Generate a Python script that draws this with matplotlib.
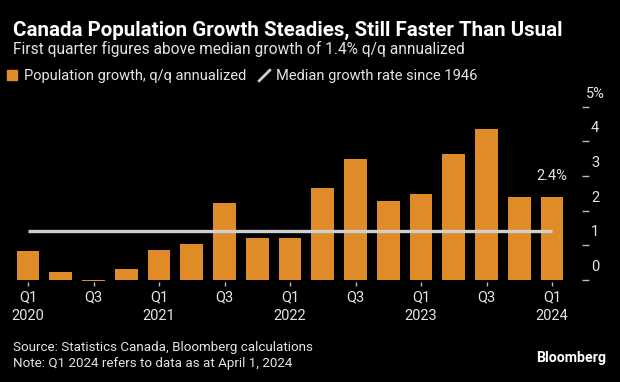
import matplotlib
matplotlib.use('Agg')
import matplotlib.pyplot as plt
from matplotlib import font_manager
from matplotlib.transforms import blended_transform_factory, offset_copy
from matplotlib.patches import Patch
from matplotlib.lines import Line2D

# data
quarters = ['Q1 2020', 'Q2 2020', 'Q3 2020', 'Q4 2020',
            'Q1 2021', 'Q2 2021', 'Q3 2021', 'Q4 2021',
            'Q1 2022', 'Q2 2022', 'Q3 2022', 'Q4 2022',
            'Q1 2023', 'Q2 2023', 'Q3 2023', 'Q4 2023',
            'Q1 2024']
growth = [0.83, 0.23, -0.04, 0.33, 0.86, 1.04, 2.23, 1.21, 1.21,
          2.66, 3.50, 2.28, 2.47, 3.64, 4.36, 2.39, 2.39]
median_growth = 1.4
xtick_pos = [0, 2, 4, 6, 8, 10, 12, 14, 16]
xtick_labels = ['Q1\n2020', 'Q3', 'Q1\n2021', 'Q3', 'Q1\n2022', 'Q3',
                'Q1\n2023', 'Q3', 'Q1\n2024']
ytick_vals = [0, 1, 2, 3, 4, 5]
ytick_labels = ['0', '1', '2', '3', '4', '5%']


def pick_font(names):
    for n in names:
        try:
            font_manager.findfont(font_manager.FontProperties(family=n),
                                  fallback_to_default=False)
            return n
        except ValueError:
            pass
    return 'DejaVu Sans'


FONT = pick_font(['Liberation Sans Narrow', 'Roboto', 'DejaVu Sans'])
plt.rcParams['font.family'] = [FONT, 'DejaVu Sans']

BG = '#000000'
ORANGE = '#DF8C28'
GREY = '#CFCFCF'
TXT = '#E4E4E4'

W, H = 620, 382
fig = plt.figure(figsize=(W / 100, H / 100), dpi=100, facecolor=BG)


def fx(px):
    return px / W


def fy(py):
    return 1 - py / H


# axes placed so zero sits at y=280 px and bars step 33.3 px
ylo, yhi = -0.05, 5.2
unit = 34.7
bottom_px = 280 - ylo * unit
top_px = 280 - yhi * unit
ax = fig.add_axes([fx(10), fy(bottom_px), fx(581.5) - fx(10),
                   (bottom_px - top_px) / H])
ax.set_facecolor(BG)
ax.set_xlim(-0.55, 16.9)
ax.set_ylim(ylo, yhi)

x = list(range(len(quarters)))
ax.bar(x, growth, width=0.70, color=ORANGE, zorder=2)
ax.plot([x[0], x[-1]], [median_growth, median_growth], color=GREY,
        lw=2.4, zorder=3, solid_capstyle='butt')

for s in ax.spines.values():
    s.set_visible(False)

ax.set_xticks(xtick_pos)
ax.set_xticklabels(xtick_labels, fontsize=10.5, color=TXT)
for t in ax.get_xticklabels():
    t.set_linespacing(1.45)
ax.tick_params(axis='x', length=3, width=1, color='#BBBBBB', pad=3)

ax.yaxis.tick_right()
ax.set_yticks(ytick_vals)
ax.tick_params(axis='y', length=4.8, width=1, color='#BBBBBB',
               labelright=False, labelleft=False)
trans = blended_transform_factory(fig.transFigure, ax.transData)
trans = offset_copy(trans, fig=fig, x=0, y=13, units='dots')
for v, lab in zip(ytick_vals, ytick_labels):
    ax.text(fx(595), v, lab, transform=trans, ha='center', va='center',
            fontsize=10.5, color=TXT, clip_on=False)

ax.annotate('2.4%', xy=(x[-1], growth[-1]), xytext=(0, 10),
            textcoords='offset points', ha='center', va='bottom',
            fontsize=10.5, color=TXT)

# header
fig.text(fx(13), fy(30), 'Canada Population Growth Steadies, Still Faster Than Usual',
         fontsize=14.8, fontweight='bold', color='#FFFFFF', va='center')
fig.text(fx(13), fy(49), 'First quarter figures above median growth of 1.4% q/q annualized',
         fontsize=11.2, color=TXT, va='center')

slash = Line2D([], [], color=GREY, lw=0, marker=[(-1, -1), (1, 1)],
               markersize=9, markeredgewidth=2, markeredgecolor=GREY)
fig.legend(handles=[Patch(color=ORANGE), slash],
           labels=['Population growth, q/q annualized',
                   'Median growth rate since 1946'],
           loc='center left', bbox_to_anchor=(fx(7), fy(76)),
           ncol=2, frameon=False, fontsize=10.5, labelcolor=TXT,
           handlelength=0.7, handleheight=0.7, handletextpad=0.5,
           columnspacing=0.8, borderaxespad=0, borderpad=0)

# footer
fig.text(fx(13), fy(348), 'Source: Statistics Canada, Bloomberg calculations',
         fontsize=9.6, color=TXT, va='center')
fig.text(fx(13), fy(364), 'Note: Q1 2024 refers to data as at April 1, 2024',
         fontsize=9.6, color=TXT, va='center')
fig.text(fx(606), fy(358), 'Bloomberg', fontsize=10.2, fontweight='bold',
         color='#FFFFFF', ha='right', va='center')

fig.savefig('out.png', dpi=100, facecolor=BG)
